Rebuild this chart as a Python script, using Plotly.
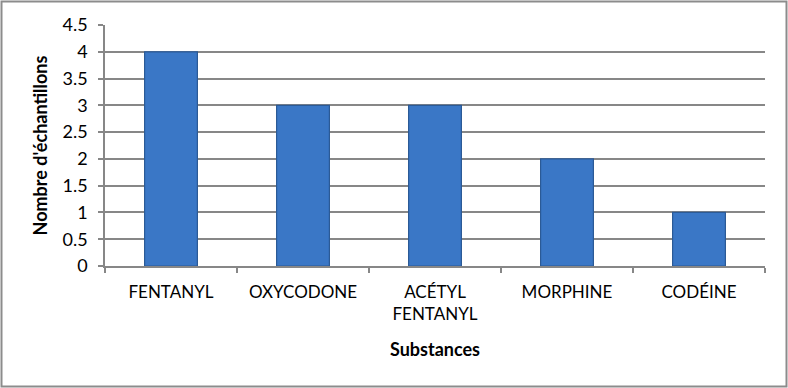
import plotly.graph_objects as go

categories = ["FENTANYL", "OXYCODONE", "ACÉTYL<br>FENTANYL", "MORPHINE", "CODÉINE"]
values = [4, 3, 3, 2, 1]
y_ticks = [0, 0.5, 1, 1.5, 2, 2.5, 3, 3.5, 4, 4.5]
y_tick_labels = ["0", "0.5", "1", "1.5", "2", "2.5", "3", "3.5", "4", "4.5"]

W, H = 788, 388
L, R, T, B = 105, 23, 25, 122
pw, ph = W - L - R, H - T - B

fig = go.Figure()
fig.add_trace(go.Bar(
    x=categories, y=values,
    marker=dict(color="#3a77c6", line=dict(color="#2b5a96", width=1.2)),
    width=0.4,
))

grid = "#878787"
font = "Lato, 'Liberation Sans', sans-serif"
fig.update_layout(
    width=W, height=H,
    margin=dict(l=L, r=R, t=T, b=B),
    paper_bgcolor="white", plot_bgcolor="white",
    showlegend=False,
    font=dict(family=font, size=17, color="#000000"),
    xaxis=dict(
        showline=True, linecolor=grid, linewidth=1.5,
        ticks="outside", tickson="boundaries", ticklen=5, tickcolor=grid, tickwidth=1.5,
        showgrid=False,
        tickfont=dict(size=17),
        ticklabelstandoff=10,
        title=dict(text="<b>Substances</b>", font=dict(size=18), standoff=20),
    ),
    yaxis=dict(
        range=[0, 4.5], tickvals=y_ticks, ticktext=y_tick_labels,
        showline=True, linecolor=grid, linewidth=1.5,
        ticks="outside", ticklen=5, tickcolor=grid, tickwidth=1.5,
        showgrid=True, gridcolor=grid, gridwidth=1.5,
        zeroline=False,
        tickfont=dict(size=18),
        ticklabelstandoff=7,
        title=dict(text="<b>Nombre d'échantillons</b>", font=dict(size=18), standoff=10),
    ),
    shapes=[dict(
        type="rect", xref="paper", yref="paper",
        x0=(1.5 - L) / pw, x1=(786.5 - L) / pw,
        y0=(H - B - 386.5) / ph, y1=(H - B - 1.5) / ph,
        line=dict(color="#8c8c8c", width=2), layer="below",
    )],
)

fig.write_html("out.html", config={"displayModeBar": False},
               post_script="document.body.style.margin='0px';document.body.style.padding='0px';")
